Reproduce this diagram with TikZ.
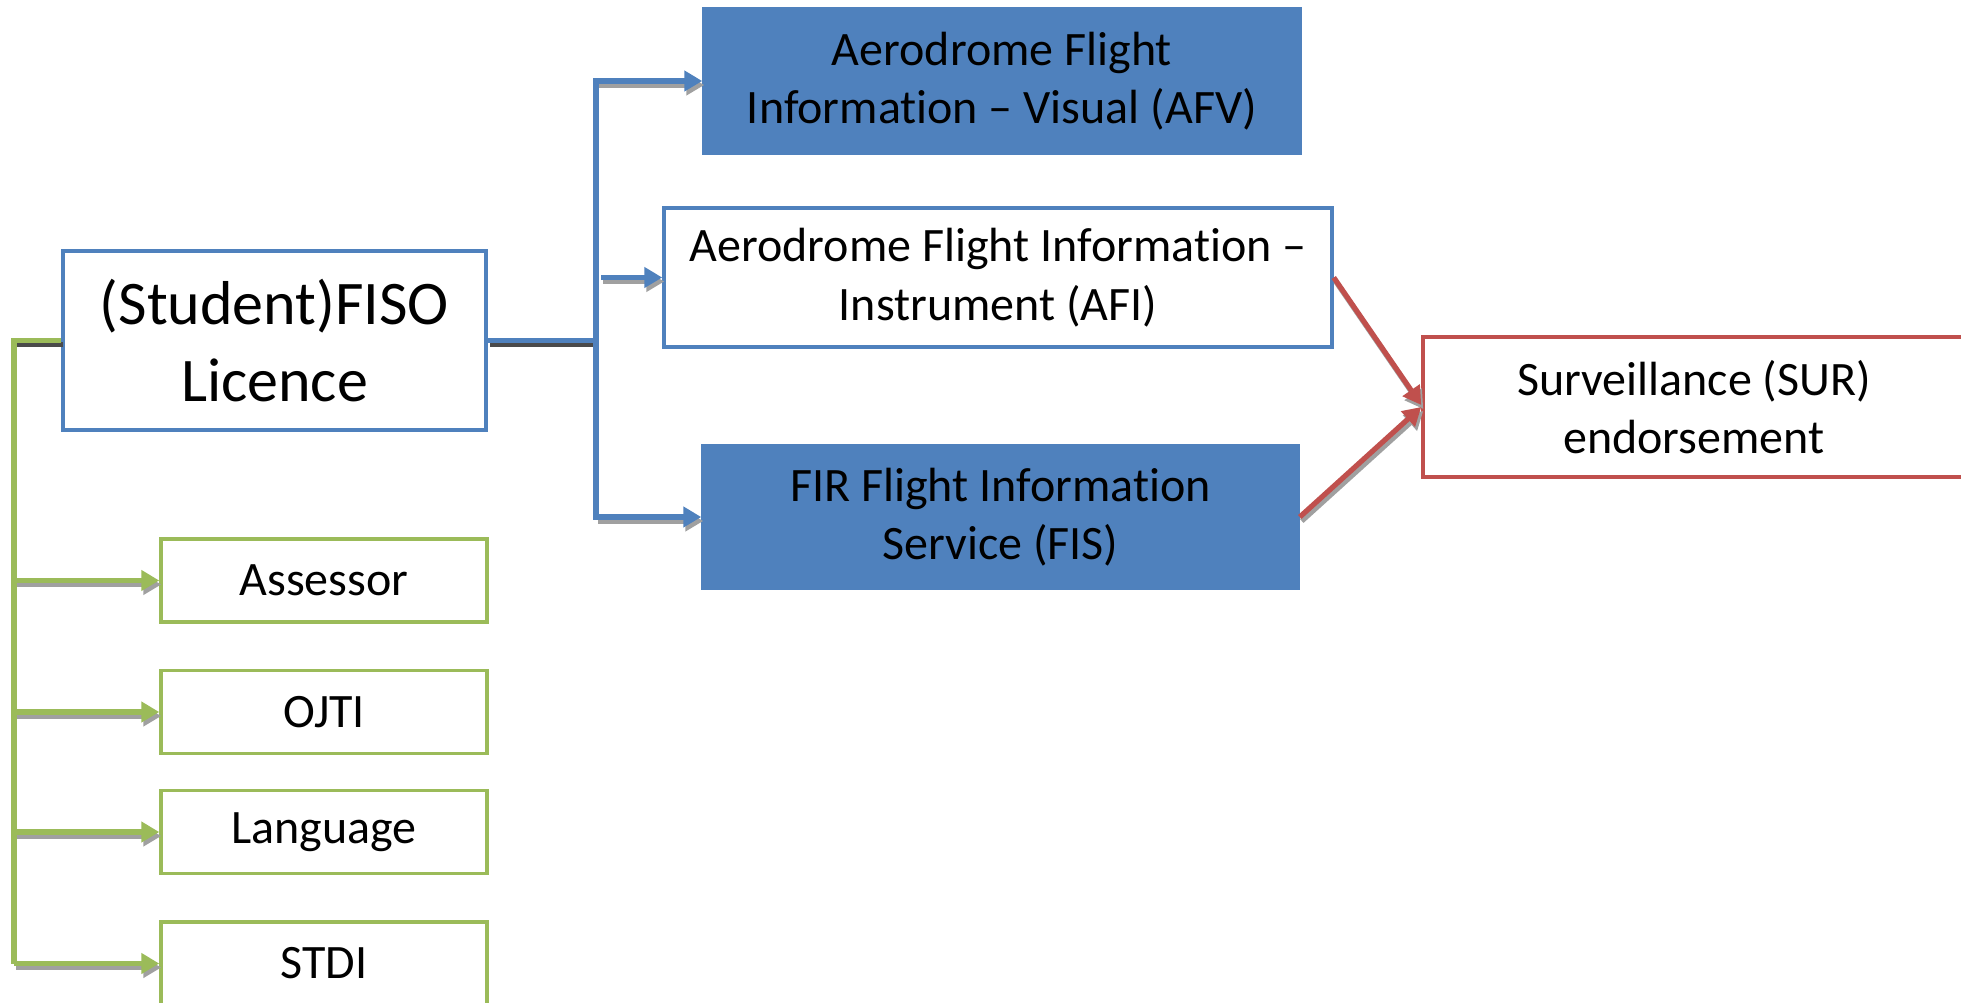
\documentclass[tikz,border=0pt]{standalone}
\usepackage{fontspec}
\setmainfont{Carlito}[Ligatures={NoCommon}]
\usetikzlibrary{arrows.meta}
\definecolor{oblue}{HTML}{4F81BD}
\definecolor{ogreen}{HTML}{9BBB59}
\definecolor{ored}{HTML}{C0504D}
\definecolor{lightshadow}{HTML}{A0A0A0}
\definecolor{darkshadow}{HTML}{4A4A4A}
\begin{document}
\begin{tikzpicture}[x=0.5pt,y=-0.5pt,
  box/.style={rectangle, draw, line width=1.75pt, inner sep=0pt, align=center, text=black,
              font=\fontsize{24}{29.3}\selectfont},
  bluebox/.style={box, draw=oblue},
  filledbox/.style={box, draw=oblue, fill=oblue},
  greenbox/.style={box, draw=ogreen, minimum width=163pt, minimum height=41.5pt},
  redbox/.style={box, draw=ored},
  arrowtip/.style={-{Triangle[length=9pt,width=10pt]}},
  conn/.style={line width=2.6pt, line join=miter},
]
\useasboundingbox (0,0) rectangle (1961,1002);
\fill[white] (0,0) rectangle (1961,1002);

% boxes
\node[bluebox, minimum width=211.5pt, minimum height=89.5pt, font=\fontsize{31}{38.5}\selectfont]
  (fiso) at (274.5,340.5) {(Student)FISO\\Licence};
\node[filledbox, minimum width=298pt, minimum height=72pt] (afv) at (1002,81)
  {Aerodrome Flight\\Information – Visual (AFV)};
\node[bluebox, minimum width=334pt, minimum height=69.5pt] (afi) at (998,277.5)
  {Aerodrome Flight Information –\\Instrument (AFI)};
\node[filledbox, minimum width=297.5pt, minimum height=71pt] (fis) at (1000.5,517)
  {FIR Flight Information\\Service (FIS)};
\node[redbox, minimum width=271pt, minimum height=70pt] (sur) at (1694,407)
  {Surveillance (SUR)\\endorsement};
\node[greenbox] (ass) at (324,580.5) {Assessor};
\node[greenbox] (ojti) at (324,712) {OJTI};
\node[greenbox] (lang) at (324,832) {Language};
\node[greenbox] (stdi) at (324,963.5) {STDI};

% branch points
\coordinate (br) at (596,340.5);
\coordinate (gx) at (14,340.5);
\path (br |- afi.west) ++(2.5pt,0) coordinate (afistart);

% shadows
\begin{scope}[transform canvas={shift={(1pt,-2pt)}}]
  \draw[conn, draw=darkshadow] (fiso.east) -- (br);
  \draw[conn, draw=darkshadow] (fiso.west) -- (gx);
  \draw[conn, draw=lightshadow, fill=lightshadow, arrowtip] (br |- afv.west) -- (afv.west);
  \draw[conn, draw=lightshadow, fill=lightshadow, arrowtip] (afistart) -- (afi.west);
  \draw[conn, draw=lightshadow, fill=lightshadow, arrowtip] (br |- fis.west) -- (fis.west);
  \draw[conn, draw=lightshadow, fill=lightshadow, arrowtip] (gx |- ass.west) -- (ass.west);
  \draw[conn, draw=lightshadow, fill=lightshadow, arrowtip] (gx |- ojti.west) -- (ojti.west);
  \draw[conn, draw=lightshadow, fill=lightshadow, arrowtip] (gx |- lang.west) -- (lang.west);
  \draw[conn, draw=lightshadow, fill=lightshadow, arrowtip] (gx |- stdi.west) -- (stdi.west);
  \draw[conn, draw=lightshadow, fill=lightshadow, arrowtip] (afi.east) -- ([yshift=1pt]sur.west);
  \draw[conn, draw=lightshadow, fill=lightshadow, arrowtip] (fis.east) -- (sur.west);
\end{scope}

% blue connectors
\draw[conn, draw=oblue] (fiso.east) -- (br);
\draw[conn, draw=oblue, line cap=rect] (br |- afv.west) -- (br |- fis.west);
\draw[conn, draw=oblue, fill=oblue, arrowtip] (br |- afv.west) -- (afv.west);
\draw[conn, draw=oblue, fill=oblue, arrowtip] (afistart) -- (afi.west);
\draw[conn, draw=oblue, fill=oblue, arrowtip] (br |- fis.west) -- (fis.west);

% green connectors
\draw[conn, draw=ogreen] (fiso.west) -- (gx) -- (gx |- stdi.west);
\draw[conn, draw=ogreen, fill=ogreen, arrowtip] (gx |- ass.west) -- (ass.west);
\draw[conn, draw=ogreen, fill=ogreen, arrowtip] (gx |- ojti.west) -- (ojti.west);
\draw[conn, draw=ogreen, fill=ogreen, arrowtip] (gx |- lang.west) -- (lang.west);
\draw[conn, draw=ogreen, fill=ogreen, arrowtip] (gx |- stdi.west) -- (stdi.west);

% red connectors
\draw[conn, draw=ored, fill=ored, arrowtip] (afi.east) -- ([yshift=1pt]sur.west);
\draw[conn, draw=ored, fill=ored, arrowtip] (fis.east) -- (sur.west);
\end{tikzpicture}
\end{document}
